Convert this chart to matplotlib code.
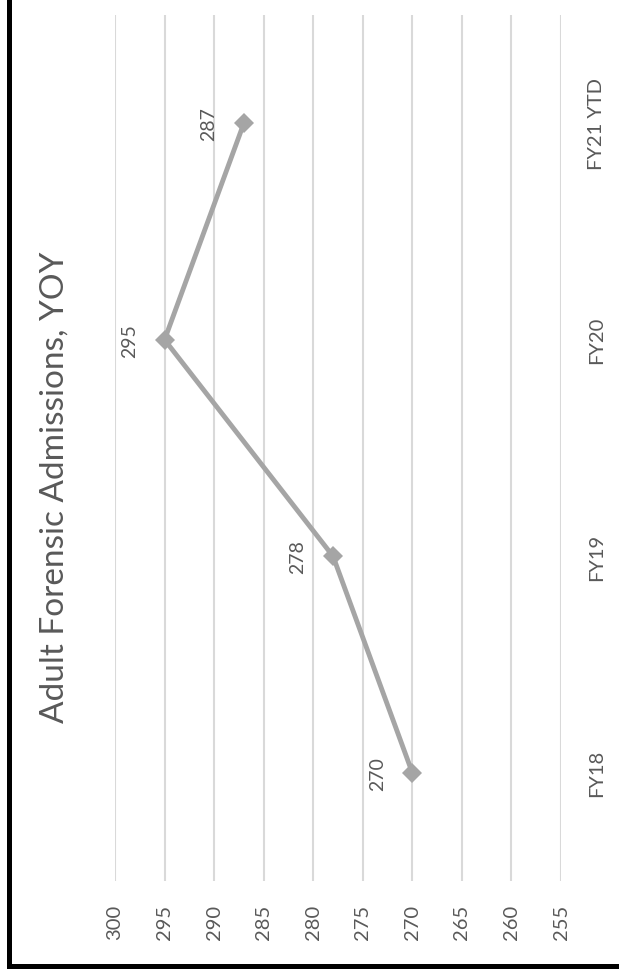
import matplotlib
matplotlib.use("Agg")
import matplotlib.pyplot as plt
from matplotlib.lines import Line2D

plt.rcParams['font.family'] = ['Lato', 'DejaVu Sans']

categories = ["FY18", "FY19", "FY20", "FY21 YTD"]
values = [270, 278, 295, 287]
value_ticks = [255, 260, 265, 270, 275, 280, 285, 290, 295, 300]
title = "Adult Forensic Admissions, YOY"

W, H = 619, 979
fig = plt.figure(figsize=(W / 100, H / 100), dpi=100)
fig.patch.set_facecolor("white")

txt = "#595959"
ax = fig.add_axes([115 / W, (H - 882) / H, (561 - 115) / W, (882 - 16) / H])
ax.set_xlim(300, 255)
ax.set_ylim(-0.5, len(categories) - 0.5)
for s in ax.spines.values():
    s.set_visible(False)

ax.set_xticks(value_ticks)
ax.set_xticklabels([str(v) for v in value_ticks], rotation=90, va="top", ha="center")
ax.grid(axis="x", color="#D9D9D9", linewidth=1.5)
ax.set_axisbelow(True)
ax.tick_params(axis="x", length=0, pad=16.5, labelsize=14.5, labelcolor=txt)

ypos = list(range(len(categories)))
ax.set_yticks(ypos)
ax.set_yticklabels(categories, rotation=90, va="center", ha="left")
ax.tick_params(axis="y", left=False, right=False, labelleft=False, labelright=True,
               pad=16, labelsize=14.5, labelcolor=txt)

ax.plot(values, ypos, color="#A5A5A5", linewidth=3.5, marker="D", markersize=10,
        markeredgewidth=0, solid_joinstyle="round", zorder=3)

for v, y in zip(values, ypos):
    ax.annotate(str(v), (v, y), xytext=(-35, 0), textcoords="offset pixels",
                rotation=90, ha="center", va="center", fontsize=14, color=txt)

fig.text(55 / W, 1 - 487 / H, title, rotation=90, ha="center", va="center",
         fontsize=24, color=txt)

# outer border (left and bottom visible)
fig.add_artist(Line2D([9 / W, 9 / W], [1, 1 - 967 / H], transform=fig.transFigure,
                      color="black", linewidth=3.6, solid_capstyle="projecting"))
fig.add_artist(Line2D([9 / W, 1], [1 - 967 / H, 1 - 967 / H], transform=fig.transFigure,
                      color="black", linewidth=3.6, solid_capstyle="projecting"))

fig.savefig("out.png", dpi=100, facecolor="white")
